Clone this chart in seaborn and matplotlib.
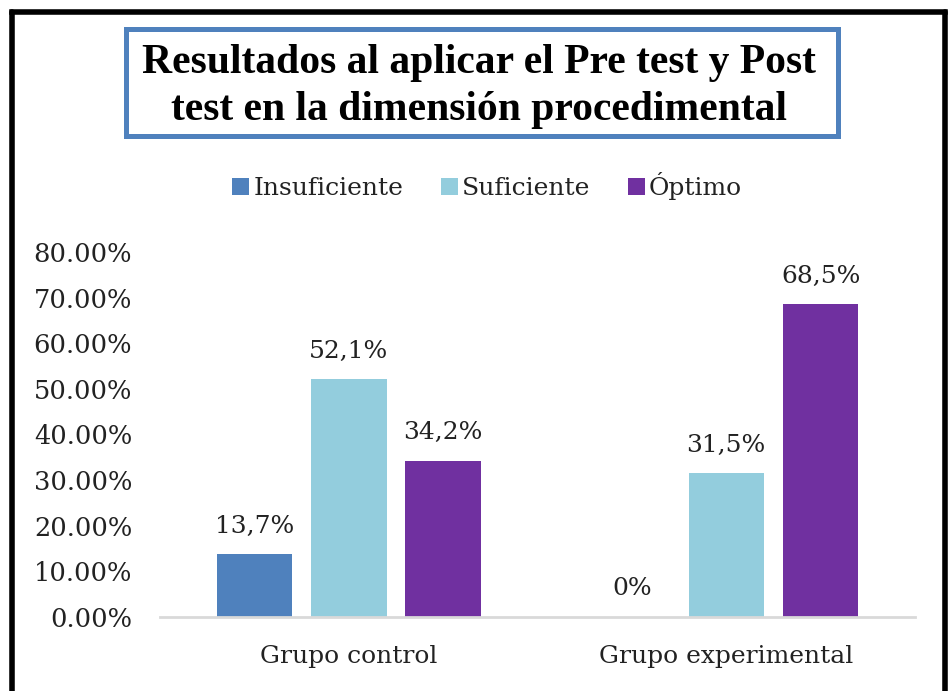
import matplotlib
matplotlib.use("Agg")
import matplotlib.pyplot as plt
import seaborn as sns
import pandas as pd
from matplotlib.patches import Rectangle
from matplotlib.lines import Line2D

# ---- data ----
grupos = ["Grupo control", "Grupo experimental"]
niveles = ["Insuficiente", "Suficiente", "Óptimo"]
insuficiente = [0.137, 0.0]
suficiente = [0.521, 0.315]
optimo = [0.342, 0.685]
etiquetas = {
    "Insuficiente": ["13,7%", "0%"],
    "Suficiente": ["52,1%", "31,5%"],
    "Óptimo": ["34,2%", "68,5%"],
}
yticks = [0.0, 0.1, 0.2, 0.3, 0.4, 0.5, 0.6, 0.7, 0.8]
ytick_labels = ["0.00%", "10.00%", "20.00%", "30.00%", "40.00%",
                "50.00%", "60.00%", "70.00%", "80.00%"]
titulo_l1 = "Resultados al aplicar el Pre test y Post"
titulo_l2 = "test en la dimensión procedimental"
colores = ["#4F81BD", "#93CDDD", "#7030A0"]

df = pd.DataFrame({
    "grupo": grupos * 3,
    "nivel": [n for n in niveles for _ in grupos],
    "valor": insuficiente + suficiente + optimo,
})

sns.set_theme(style="white")
plt.rcParams["font.family"] = ["DejaVu Serif"]

W, H = 949, 691
fig = plt.figure(figsize=(W / 100, H / 100), dpi=100)
ax = fig.add_axes([160 / W, 1 - 617 / H, 755 / W, (617 - 252) / H])

sns.barplot(data=df, x="grupo", y="valor", hue="nivel", hue_order=niveles,
            order=grupos, palette=colores, saturation=1, width=0.75, gap=0.2,
            linewidth=0, ax=ax)

handles, labels = ax.get_legend_handles_labels()
if ax.get_legend() is not None:
    ax.get_legend().remove()

for cont, nivel in zip(ax.containers, niveles):
    ax.bar_label(cont, labels=etiquetas[nivel], padding=12,
                 fontsize=18, color="#222222")

ax.set_xlim(-0.5, 1.5)
ax.set_ylim(0, 0.8)
ax.set_yticks(yticks)
ax.set_yticklabels(ytick_labels)
ax.set_xlabel("")
ax.set_ylabel("")
ax.tick_params(axis="both", length=0, colors="#222222")
ax.tick_params(axis="x", pad=20, labelsize=18)
ax.tick_params(axis="y", pad=20, labelsize=18.5)
for s in ["top", "right", "left"]:
    ax.spines[s].set_visible(False)
ax.spines["bottom"].set_color("#D9D9D9")
ax.spines["bottom"].set_linewidth(2)
ax.grid(False)

fig.legend(handles, labels, loc="center", bbox_to_anchor=(487 / W, 1 - 186 / H),
           ncol=3, frameon=False, fontsize=18, handlelength=0.7, handleheight=0.7,
           handletextpad=0.15, columnspacing=1.5, labelcolor="#222222")

# title box
fig.add_artist(Rectangle((125.5 / W, 1 - 136 / H), (838.5 - 125.5) / W, (136 - 29.5) / H,
                         transform=fig.transFigure, fill=False,
                         edgecolor="#4F81BD", linewidth=3.6))
for txt, yb in [(titulo_l1, 73), (titulo_l2, 120)]:
    fig.text(479 / W, 1 - yb / H, txt, ha="center", va="baseline",
             fontsize=30, fontweight="bold", family=["Liberation Serif"],
             color="black")

# figure frame (left, top, right)
lw = 4
fig.add_artist(Line2D([12 / W, 12 / W], [0, 1 - 12 / H], transform=fig.transFigure,
                      color="black", linewidth=lw))
fig.add_artist(Line2D([12 / W, 945 / W], [1 - 12 / H, 1 - 12 / H], transform=fig.transFigure,
                      color="black", linewidth=lw, solid_capstyle="projecting"))
fig.add_artist(Line2D([945 / W, 945 / W], [0, 1 - 12 / H], transform=fig.transFigure,
                      color="black", linewidth=lw))

fig.savefig("out.png", dpi=100)
